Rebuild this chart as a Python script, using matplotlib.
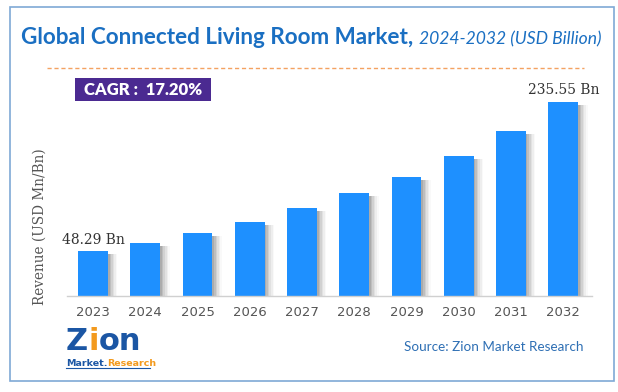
#plot.py
#===========================================================================================
#Librerias
#===========================================================================================
import matplotlib.pyplot as plt
from matplotlib.patches import Rectangle
import numpy as np

#===========================================================================================
#Datos
#===========================================================================================
years = ["2023", "2024", "2025", "2026", "2027", "2028", "2029", "2030", "2031", "2032"]
revenue = [48.29, 58.4, 71.0, 84.8, 101.7, 120.6, 141.5, 167.9, 198.7, 235.55]
first_label = "48.29 Bn"
last_label = "235.55 Bn"
cagr_text = "CAGR :  17.20%"

bar_color = "#1E90FF"
base = -8.75   # el eje no arranca en cero

#===========================================================================================
#Figura
#===========================================================================================
fig = plt.figure(figsize=(6.18, 3.92), dpi=100)
W, H = 618, 392

def fx(px):
    return px / W

def fy(py):
    return 1 - py / H

renderer = fig.canvas.get_renderer()

def ancho(t):
    # ancho del texto en fraccion de figura
    return t.get_window_extent(renderer=renderer).width / W

# borde de la figura
fig.patches.append(Rectangle((fx(10), fy(381)), fx(614) - fx(10), fy(7) - fy(381),
                             transform=fig.transFigure, fill=False,
                             edgecolor="#7fa9d6", linewidth=1.2))

# titulo
t1 = fig.text(fx(21), fy(38), "Global Connected Living Room Market,", fontsize=16.2,
              fontweight="bold", color="#1a6fc2", family="Lato", va="center", ha="left")
fig.text(fx(21) + ancho(t1) + fx(6), fy(39), "2024-2032 (USD Billion)", fontsize=12.6,
         style="italic", color="#1a6fc2", family="Lato", va="center", ha="left")

# linea punteada naranja
fig.lines.append(plt.Line2D([fx(47), fx(584)], [fy(68), fy(68)], transform=fig.transFigure,
                            color="#f4a261", linewidth=1, linestyle=(0, (3, 2))))

# caja CAGR
fig.patches.append(Rectangle((fx(75), fy(101)), fx(211) - fx(75), fy(78) - fy(101),
                             transform=fig.transFigure, facecolor="#4b2a91", edgecolor="none"))
fig.text(fx(143), fy(90), cagr_text, fontsize=12, fontweight="heavy", color="white",
         family="Lato", ha="center", va="center")

#===========================================================================================
#Grafica de barras
#===========================================================================================
ax = fig.add_axes([fx(67), fy(296), fx(592) - fx(67), fy(90) - fy(296)])
x = np.arange(len(years))
vals = np.array(revenue)

# sombra gris a la derecha de cada barra
for k in range(6):
    ax.bar(x + 0.285 + k * 0.03, vals - base - 4, width=0.03, bottom=base,
           color="#666666", alpha=0.55 * (1 - k / 6) ** 1.5, linewidth=0, align="edge")

ax.bar(x, vals - base, width=0.57, bottom=base, color=bar_color, linewidth=0)

ax.set_xlim(-0.5, 9.55)
ax.set_ylim(base, 250.7)
ax.set_xticks(x)
ax.set_xticklabels(years, fontsize=9.5, color="#555555", family="DejaVu Sans")
ax.tick_params(axis="x", length=0, pad=7)
ax.set_yticks([])
for s in ["top", "right", "left"]:
    ax.spines[s].set_visible(False)
ax.spines["bottom"].set_color("#d0d0d0")
ax.spines["bottom"].set_linewidth(1)

ax.text(x[0], vals[0] + 14, first_label, ha="center", va="center", fontsize=10,
        color="#333333", family="DejaVu Serif")
ax.text(x[-1], vals[-1] + 15, last_label, ha="center", va="center", fontsize=10,
        color="#333333", family="DejaVu Serif")

fig.text(fx(40), fy(227), "Revenue (USD Mn/Bn)", rotation=90, fontsize=9.8,
         color="#555555", family="DejaVu Serif", ha="center", va="center")

#===========================================================================================
#Logo y fuente
#===========================================================================================
z = fig.text(fx(66), fy(350), "Z", fontsize=22, fontweight="bold", color="#1b56a4",
             family="DejaVu Sans", ha="left", va="baseline")
xi = fx(66) + ancho(z)
i = fig.text(xi, fy(350), "i", fontsize=22, fontweight="bold", color="#f39a1e",
             family="DejaVu Sans", ha="left", va="baseline")
fig.text(xi + ancho(i), fy(350), "on", fontsize=22, fontweight="bold", color="#1b56a4",
         family="DejaVu Sans", ha="left", va="baseline")
m = fig.text(fx(66), fy(366), "Market.", fontsize=6.8, fontweight="bold", color="#1b56a4",
             family="DejaVu Sans", ha="left", va="baseline")
fig.text(fx(66) + ancho(m), fy(366), "Research", fontsize=6.8, fontweight="bold",
         color="#f39a1e", family="DejaVu Sans", ha="left", va="baseline")
fig.lines.append(plt.Line2D([fx(66), fx(150)], [fy(368), fy(368)], transform=fig.transFigure,
                            color="#1b56a4", linewidth=0.8))

fig.text(fx(404), fy(347), "Source: Zion Market Research", fontsize=9.7, color="#2e6fb4",
         family="Lato", ha="left", va="center")

plt.savefig("out.png", dpi=100)
